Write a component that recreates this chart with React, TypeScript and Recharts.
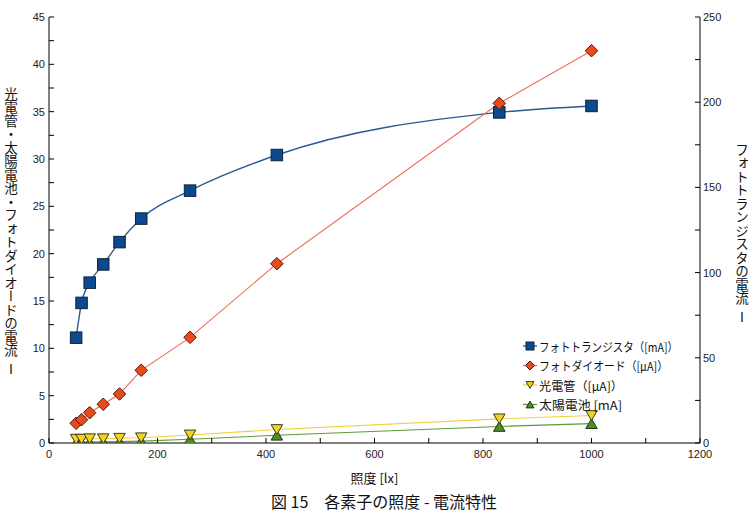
import React from 'react';
import { LineChart, Line, XAxis, YAxis, Legend } from 'recharts';

const lux = [50, 60, 75, 100, 130, 170, 260, 420, 830, 1000];
const phototransistor = [61.8, 82.2, 94.1, 104.8, 117.9, 131.7, 148.1, 169.0, 194.0, 197.8];
const photodiode = [2.08, 2.46, 3.2, 4.09, 5.18, 7.68, 11.16, 18.94, 35.88, 41.44];
const phototube = [0.4, 0.4, 0.45, 0.45, 0.5, 0.55, 0.85, 1.42, 2.55, 2.9];
const solarCell = [0.05, 0.07, 0.1, 0.12, 0.15, 0.2, 0.4, 0.82, 1.75, 2.05];

const xTicks = [0, 100, 200, 300, 400, 500, 600, 700, 800, 900, 1000, 1100, 1200];
const leftTicks = [0, 2.5, 5, 7.5, 10, 12.5, 15, 17.5, 20, 22.5, 25, 27.5, 30, 32.5, 35, 37.5, 40, 42.5, 45];
const rightTicks = [0, 25, 50, 75, 100, 125, 150, 175, 200, 225, 250];

const seriesNames = {
  tr: 'フォトトランジスタ（[mA]）',
  pd: 'フォトダイオード（[μA]）',
  pt: '光電管（[μA]）',
  sc: '太陽電池 [mA]',
};

const leftTitle = ['光電管・太陽電池・フォトダイオードの電流', 'I'];
const rightTitle = ['フォトトランジスタの電流', 'I'];
const xTitle = '照度 [lx]';
const caption = '図 15　各素子の照度 - 電流特性';

const data = lux.map((x, i) => ({
  lux: x,
  tr: phototransistor[i],
  pd: photodiode[i],
  pt: phototube[i],
  sc: solarCell[i],
}));

const JP = '"Noto Sans CJK JP", "Noto Sans", sans-serif';
const NUM = '"Liberation Sans", Arial, sans-serif';

const styles: Record<string, { fill: string; stroke: string; line: string; lw: number; shape: string; tw: number }> = {
  tr: { fill: '#0b4a8e', stroke: '#10203a', line: '#2a5a92', lw: 1.4, shape: 'square', tw: 139 },
  pd: { fill: '#ea4a1c', stroke: '#4a1a08', line: '#f06a58', lw: 1.1, shape: 'diamond', tw: 129 },
  pt: { fill: '#f5d21e', stroke: '#3a3a20', line: '#f2cf3a', lw: 1.1, shape: 'down', tw: 84 },
  sc: { fill: '#4e8c2a', stroke: '#1e3a10', line: '#5e9a3a', lw: 1.1, shape: 'up', tw: 83 },
};

function Marker({ cx, cy, k, s }: { cx: number; cy: number; k: string; s: number }) {
  const st = styles[k];
  if (cx == null || cy == null || isNaN(cx) || isNaN(cy)) return <g />;
  const h = s / 2;
  if (st.shape === 'square') {
    return <rect x={cx - h} y={cy - h} width={s} height={s} fill={st.fill} stroke={st.stroke} strokeWidth={1} />;
  }
  if (st.shape === 'diamond') {
    const d = h + 0.5;
    return (
      <polygon
        points={`${cx},${cy - d} ${cx + d},${cy} ${cx},${cy + d} ${cx - d},${cy}`}
        fill={st.fill}
        stroke={st.stroke}
        strokeWidth={1}
      />
    );
  }
  const th = h * 0.85;
  if (st.shape === 'down') {
    return (
      <polygon
        points={`${cx - h},${cy - th} ${cx + h},${cy - th} ${cx},${cy + th}`}
        fill={st.fill}
        stroke={st.stroke}
        strokeWidth={1}
      />
    );
  }
  return (
    <polygon
      points={`${cx - h},${cy + th} ${cx + h},${cy + th} ${cx},${cy - th}`}
      fill={st.fill}
      stroke={st.stroke}
      strokeWidth={1}
    />
  );
}

const makeDot = (k: string) => (props: any) => (
  <Marker key={`${k}-${props.index}`} cx={props.cx} cy={props.cy} k={k} s={11.5} />
);

const XTick = (props: any) => {
  const { x, y, payload } = props;
  if (payload.value % 200 !== 0) return <g />;
  return (
    <text x={x} y={y} dy={8} textAnchor="middle" fontSize={11} fontFamily={NUM} fill="#222">
      {payload.value}
    </text>
  );
};

const LeftTick = (props: any) => {
  const { x, y, payload } = props;
  if (payload.value % 5 !== 0) return <g />;
  return (
    <text x={x} y={y} dy={4} textAnchor="end" fontSize={11} fontFamily={NUM} fill="#222">
      {payload.value}
    </text>
  );
};

const RightTick = (props: any) => {
  const { x, y, payload } = props;
  if (payload.value % 50 !== 0) return <g />;
  return (
    <text x={x} y={y} dy={4} textAnchor="start" fontSize={11} fontFamily={NUM} fill="#222">
      {payload.value}
    </text>
  );
};

const XLabel = (props: any) => {
  const { viewBox, value } = props;
  const vb = viewBox || {};
  return (
    <text
      x={vb.x + vb.width / 2}
      y={vb.y + 34}
      textAnchor="middle"
      dominantBaseline="central"
      fontSize={13}
      fontFamily={JP}
      fill="#111"
    >
      {value}
    </text>
  );
};

const order = ['tr', 'pd', 'pt', 'sc'];

const LegendContent = (props: any) => {
  const payload = (props.payload || []).slice().sort(
    (a: any, b: any) => order.indexOf(String(a.dataKey)) - order.indexOf(String(b.dataKey))
  );
  return (
    <svg width={170} height={84} style={{ display: 'block', overflow: 'visible' }}>
      {payload.map((p: any, i: number) => {
        const k = String(p.dataKey);
        const st = styles[k];
        const y = 11 + i * 19.5;
        return (
          <g key={k}>
            <line x1={8} x2={22} y1={y} y2={y} stroke={st.line} strokeWidth={1.3} />
            <Marker cx={15} cy={y} k={k} s={8} />
            <text
              x={24}
              y={y}
              dominantBaseline="central"
              fontSize={12}
              fontFamily={JP}
              fill="#111"
              textLength={st.tw}
              lengthAdjust="spacingAndGlyphs"
            >
              {p.value}
            </text>
          </g>
        );
      })}
    </svg>
  );
};

const vTitle: React.CSSProperties = {
  position: 'absolute',
  writingMode: 'vertical-rl',
  textOrientation: 'upright',
  fontFamily: JP,
  fontSize: 13.5,
  lineHeight: '15px',
  width: 15,
  color: '#111',
  whiteSpace: 'pre',
  letterSpacing: 0,
};

export default function App() {
  return (
    <div
      style={{
        position: 'absolute',
        left: 0,
        top: 0,
        width: 750,
        height: 515,
        background: '#fff',
      }}
    >
      <LineChart width={750} height={515} data={data} margin={{ top: 17, right: 0, bottom: 42, left: 0 }}>
        <XAxis
          dataKey="lux"
          type="number"
          domain={[0, 1200]}
          ticks={xTicks}
          interval={0}
          allowDataOverflow
          height={30}
          tickSize={-5}
          tickMargin={12}
          tick={XTick}
          stroke="#000"
          tickLine={{ stroke: '#000' }}
          label={<XLabel value={xTitle} />}
        />
        <XAxis
          xAxisId="top"
          orientation="top"
          type="number"
          domain={[0, 1200]}
          height={0}
          tick={false}
          tickLine={false}
          stroke="#000"
        />
        <YAxis
          yAxisId="left"
          type="number"
          domain={[0, 45]}
          ticks={leftTicks}
          interval={0}
          allowDataOverflow
          width={49}
          tickSize={-5}
          tickMargin={9}
          tick={LeftTick}
          stroke="#000"
          tickLine={{ stroke: '#000' }}
        />
        <YAxis
          yAxisId="right"
          orientation="right"
          type="number"
          domain={[0, 250]}
          ticks={rightTicks}
          interval={0}
          allowDataOverflow
          width={50}
          tickSize={-5}
          tickMargin={8}
          tick={RightTick}
          stroke="#000"
          tickLine={{ stroke: '#000' }}
        />
        <Line
          yAxisId="right"
          dataKey="tr"
          name={seriesNames.tr}
          type="monotone"
          stroke={styles.tr.line}
          strokeWidth={styles.tr.lw}
          dot={makeDot('tr')}
          activeDot={false}
          isAnimationActive={false}
        />
        <Line
          yAxisId="left"
          dataKey="pd"
          name={seriesNames.pd}
          type="linear"
          stroke={styles.pd.line}
          strokeWidth={styles.pd.lw}
          dot={makeDot('pd')}
          activeDot={false}
          isAnimationActive={false}
        />
        <Line
          yAxisId="left"
          dataKey="sc"
          name={seriesNames.sc}
          type="linear"
          stroke={styles.sc.line}
          strokeWidth={styles.sc.lw}
          dot={makeDot('sc')}
          activeDot={false}
          isAnimationActive={false}
        />
        <Line
          yAxisId="left"
          dataKey="pt"
          name={seriesNames.pt}
          type="linear"
          stroke={styles.pt.line}
          strokeWidth={styles.pt.lw}
          dot={makeDot('pt')}
          activeDot={false}
          isAnimationActive={false}
        />
        <Legend
          layout="vertical"
          align="center"
          verticalAlign="middle"
          content={LegendContent}
          wrapperStyle={{ left: 515, top: 335, width: 170, height: 84, right: 'auto', bottom: 'auto' }}
        />
      </LineChart>
      <div style={{ ...vTitle, left: 4, top: 87 }}>
        {leftTitle[0]}
        <span style={{ fontSize: 5 }}> </span>
        {leftTitle[1]}
      </div>
      <div style={{ ...vTitle, left: 735, top: 143 }}>
        {rightTitle[0]}
        <span style={{ fontSize: 5 }}> </span>
        {rightTitle[1]}
      </div>
      <div
        style={{
          position: 'absolute',
          left: 234,
          top: 490,
          width: 300,
          textAlign: 'center',
          fontFamily: JP,
          fontSize: 16,
          lineHeight: '22px',
          color: '#111',
          whiteSpace: 'pre',
        }}
      >
        {caption}
      </div>
    </div>
  );
}
